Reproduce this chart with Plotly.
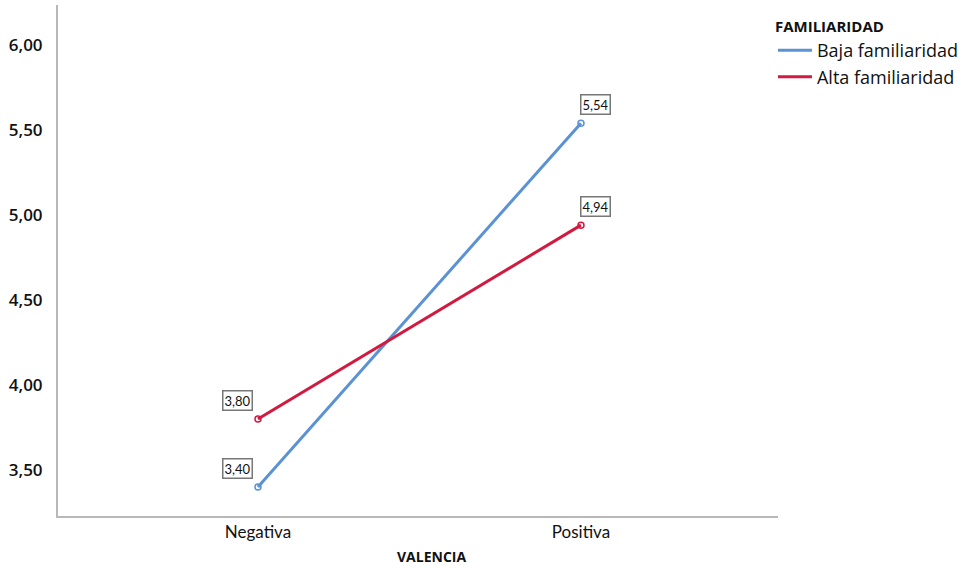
import plotly.graph_objects as go

categories = ["Negativa", "Positiva"]
baja = [3.40, 5.54]
alta = [3.80, 4.94]
series_names = ["Baja familiaridad", "Alta familiaridad"]
tick_vals = [3.5, 4.0, 4.5, 5.0, 5.5, 6.0]
tick_text = ["3,50", "4,00", "4,50", "5,00", "5,50", "6,00"]

colors = ["#5b92d3", "#d2193f"]

fig = go.Figure()
for name, vals, c in zip(series_names, [baja, alta], colors):
    fig.add_trace(go.Scatter(
        x=categories, y=vals, name=name, mode="lines",
        line=dict(color=c, width=3), legendgroup=name,
    ))
    fig.add_trace(go.Scatter(
        x=categories, y=vals, name=name, mode="markers", showlegend=False,
        legendgroup=name,
        marker=dict(symbol="circle-open", size=6, color=c, line=dict(width=1.5)),
    ))

def fmt(v):
    return f"{v:.2f}".replace(".", ",")

annotations = []
for vals in [baja, alta]:
    for i, (cat, v) in enumerate(zip(categories, vals)):
        left = i == 0
        annotations.append(dict(
            x=cat, y=v, xref="x", yref="y", text=fmt(v),
            showarrow=False,
            xanchor="right" if left else "left",
            yanchor="bottom",
            xshift=-5 if left else -1,
            yshift=8,
            font=dict(family="Lato", size=13, color="#111"),
            bgcolor="white", bordercolor="#777", borderwidth=1.5, borderpad=1,
        ))

annotations.append(dict(
    x=0.519, y=-0.080, xref="paper", yref="paper", text="<b>VALENCIA</b>",
    showarrow=False, xanchor="center", yanchor="middle",
    font=dict(family="Open Sans", size=14, color="#111"),
))

fig.update_layout(
    width=978, height=568,
    paper_bgcolor="white", plot_bgcolor="white",
    margin=dict(l=58, r=200, t=5, b=52),
    font=dict(family="Open Sans", color="#111"),
    xaxis=dict(
        type="category", range=[-0.619, 1.61], automargin=False,
        showline=True, linecolor="#b8b8b8", linewidth=2,
        showgrid=False, ticks="", zeroline=False,
        tickfont=dict(family="Lato", size=17, color="#111"),
        ticklabelstandoff=0,
    ),
    yaxis=dict(
        range=[3.229, 6.235], automargin=False,
        tickvals=tick_vals, ticktext=tick_text,
        showline=True, linecolor="#b8b8b8", linewidth=2,
        showgrid=False, ticks="", zeroline=False,
        tickfont=dict(family="Open Sans", size=17, color="#111", weight=600),
        ticklabelstandoff=10,
    ),
    legend=dict(
        x=0.993, xanchor="left", y=0.985, yanchor="top",
        title=dict(text="<b>FAMILIARIDAD</b>", font=dict(size=15, color="#111")),
        font=dict(size=18, color="#111", weight=500),
        itemwidth=34, tracegroupgap=0,
    ),
    annotations=annotations,
)

fig.write_html("out.html", config={"displayModeBar": False},
               post_script="document.body.style.margin='0';")
